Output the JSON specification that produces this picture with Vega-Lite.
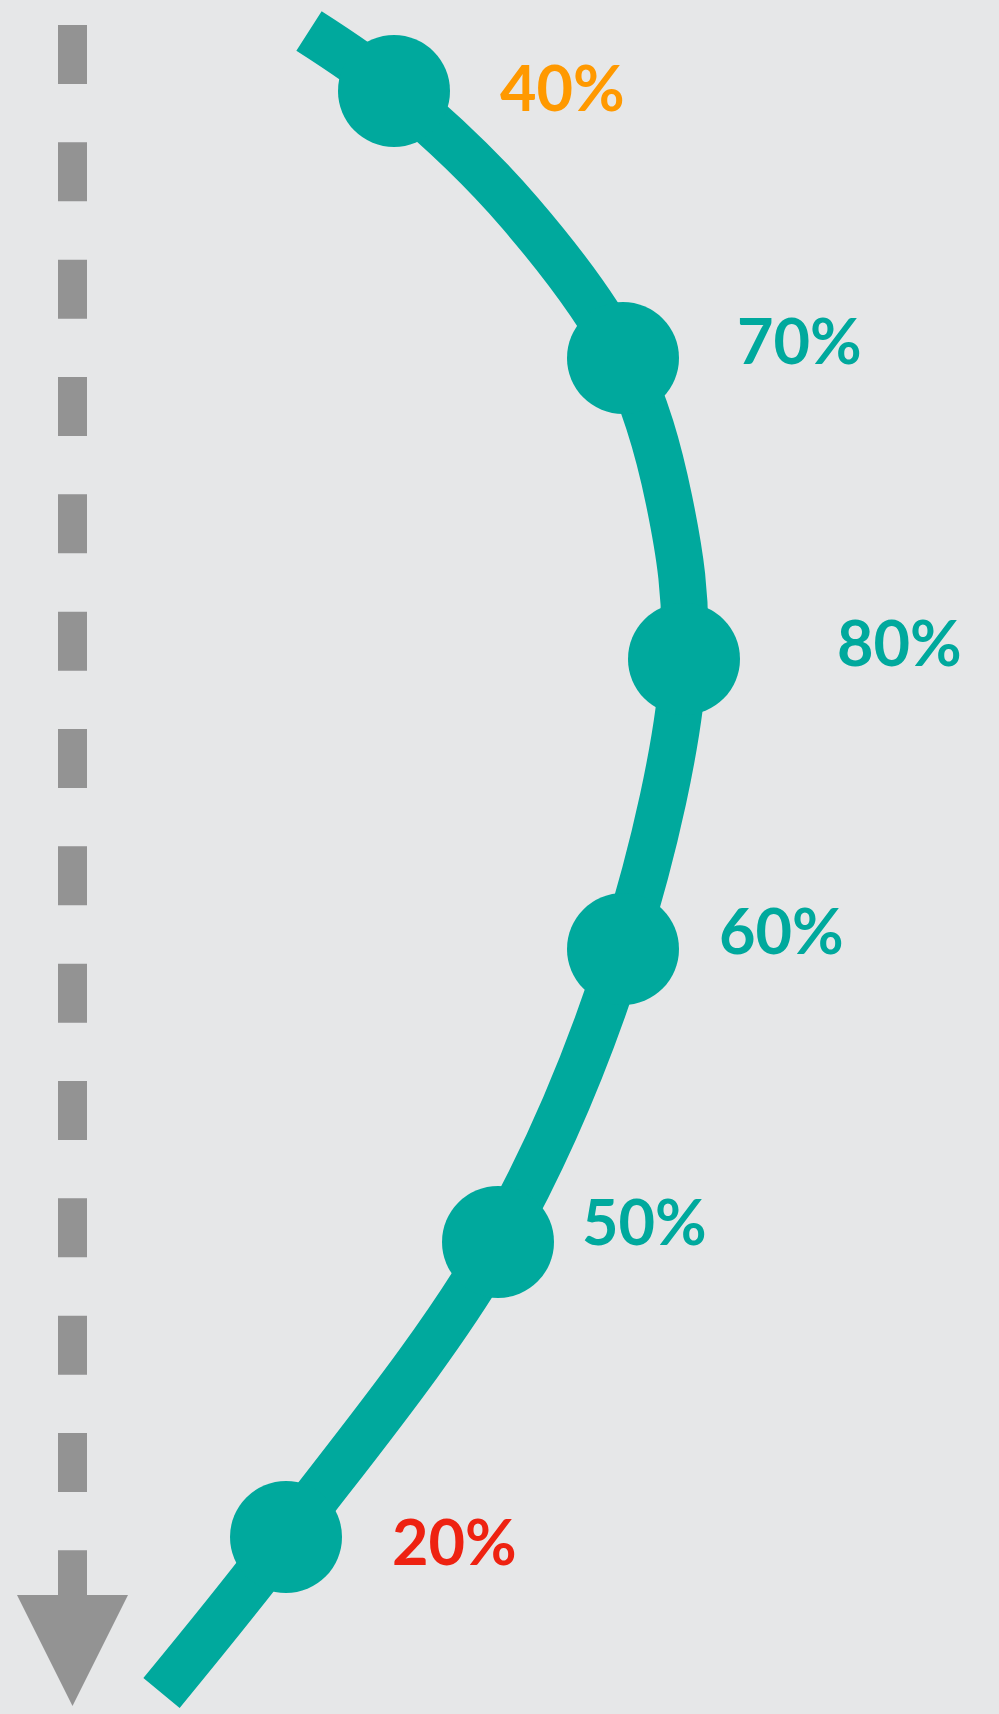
{
  "$schema": "https://vega.github.io/schema/vega-lite/v6.json",
  "autosize": {"type": "none"},
  "width": 999,
  "height": 1714,
  "padding": 0,
  "background": "#E6E7E8",
  "config": {"view": {"stroke": null}},
  "datasets": {
    "curve": [
      {"ord": 0, "px": 309, "py": 31},
      {"ord": 1, "px": 394, "py": 91},
      {"ord": 2, "px": 520, "py": 213},
      {"ord": 3, "px": 623, "py": 358},
      {"ord": 4, "px": 669, "py": 500},
      {"ord": 5, "px": 684, "py": 659},
      {"ord": 6, "px": 623, "py": 949},
      {"ord": 7, "px": 498, "py": 1242},
      {"ord": 8, "px": 286, "py": 1537},
      {"ord": 9, "px": 161.5, "py": 1693}
    ],
    "stages": [
      {"x": 394, "y": 91, "label": "40%", "lx": 500, "ly": 111, "tone": "mid"},
      {"x": 623, "y": 358, "label": "70%", "lx": 737, "ly": 364, "tone": "high"},
      {"x": 684, "y": 659, "label": "80%", "lx": 837, "ly": 666, "tone": "high"},
      {"x": 623, "y": 949, "label": "60%", "lx": 719, "ly": 954, "tone": "high"},
      {"x": 498, "y": 1242, "label": "50%", "lx": 582, "ly": 1245, "tone": "high"},
      {"x": 286, "y": 1537, "label": "20%", "lx": 392, "ly": 1565, "tone": "low"}
    ],
    "guide": [{"x": 72.5, "y": 25, "y2": 1600}],
    "arrow": [{"x": 72.5, "y": 1650.5}]
  },
  "layer": [
    {
      "data": {"name": "guide"},
      "mark": {"type": "rule", "color": "#939393", "strokeWidth": 29, "strokeDash": [59, 58.33], "strokeCap": "butt"},
      "encoding": {
        "x": {"field": "x", "type": "quantitative", "scale": {"domain": [0, 999], "nice": false, "zero": false}, "axis": null},
        "y": {"field": "y", "type": "quantitative", "scale": {"domain": [0, 1714], "nice": false, "zero": false, "reverse": true}, "axis": null},
        "y2": {"field": "y2"}
      }
    },
    {
      "data": {"name": "arrow"},
      "mark": {"type": "point", "shape": "M-1,-1L1,-1L0,1Z", "filled": true, "opacity": 1, "color": "#939393", "size": 12321, "strokeWidth": 0},
      "encoding": {
        "x": {"field": "x", "type": "quantitative"},
        "y": {"field": "y", "type": "quantitative"}
      }
    },
    {
      "data": {"name": "curve"},
      "mark": {"type": "line", "interpolate": "catmull-rom", "color": "#00A99D", "strokeWidth": 47, "strokeCap": "butt"},
      "encoding": {
        "x": {"field": "px", "type": "quantitative"},
        "y": {"field": "py", "type": "quantitative"},
        "order": {"field": "ord", "type": "quantitative"}
      }
    },
    {
      "data": {"name": "stages"},
      "mark": {"type": "point", "shape": "circle", "filled": true, "opacity": 1, "color": "#00A99D", "size": 12544, "strokeWidth": 0},
      "encoding": {
        "x": {"field": "x", "type": "quantitative"},
        "y": {"field": "y", "type": "quantitative"}
      }
    },
    {
      "data": {"name": "stages"},
      "mark": {"type": "text", "font": "Lato", "fontWeight": "bold", "fontSize": 63, "align": "left", "baseline": "alphabetic"},
      "encoding": {
        "x": {"field": "lx", "type": "quantitative"},
        "y": {"field": "ly", "type": "quantitative"},
        "text": {"field": "label", "type": "nominal"},
        "color": {"field": "tone", "type": "nominal", "scale": {"domain": ["low", "mid", "high"], "range": ["#EE2211", "#FF9900", "#00A99D"]}, "legend": null}
      }
    }
  ]
}
